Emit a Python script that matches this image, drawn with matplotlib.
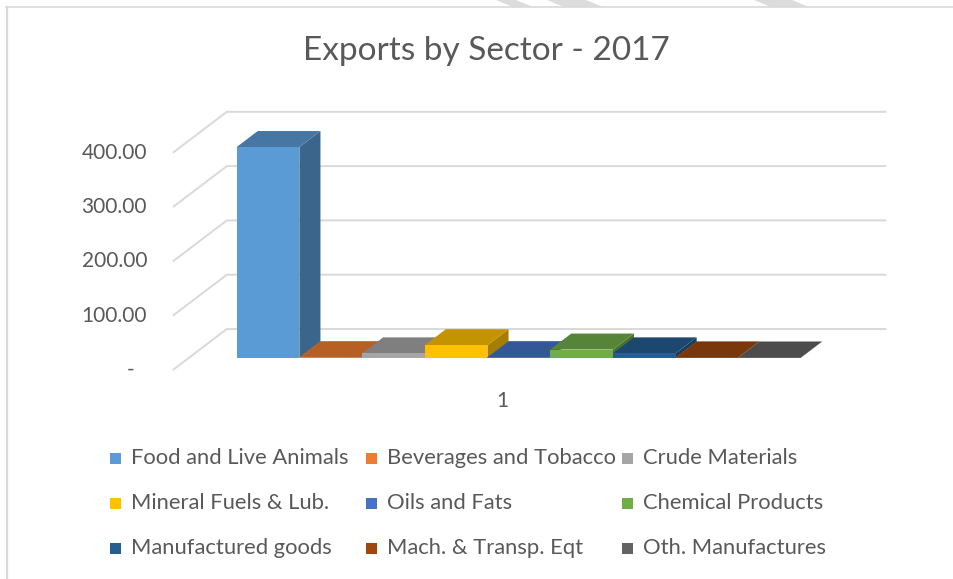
import matplotlib.pyplot as plt
from matplotlib.patches import Polygon, Rectangle
from matplotlib.lines import Line2D
import numpy as np

plt.rcParams['font.family'] = ['Lato', 'DejaVu Sans']

# export values per sector, 2017
sectors = ["Food and Live Animals", "Beverages and Tobacco", "Crude Materials",
           "Mineral Fuels & Lub.", "Oils and Fats", "Chemical Products",
           "Manufactured goods", "Mach. & Transp. Eqt", "Oth. Manufactures"]
values = [388, 1, 8, 23, 1, 15, 8, 0.6, 0.4]
colors = ["#5B9BD5", "#ED7D31", "#A5A5A5", "#FFC000", "#4472C4",
          "#70AD47", "#255E91", "#9E480E", "#636363"]
yticks = [0, 100, 200, 300, 400]
category = "1"

W, H = 954, 579
TXT = "#595959"
GRID = "#D9D9D9"

# oblique projection: depth d in [0, 1] shifts points right and up
DX, DY = 0.861, 75.5
XL, XR = -0.76, 9.76          # floor extent in bar-width units
D0, D1 = 0.30, 0.69           # front and back depth of the columns


def proj(x, v, d):
    return x + d * DX, v + d * DY


def shade(c, f):
    r, g, b = [int(c[i:i + 2], 16) for i in (1, 3, 5)]
    return (r * f / 255, g * f / 255, b * f / 255)


fig = plt.figure(figsize=(W / 100, H / 100), dpi=100)
ax = fig.add_axes([0, 0, 1, 1])
ax.set_axis_off()
ax.set_xlim(-220.5 / 62.7, (W - 220.5) / 62.7)
ax.set_ylim((370 - H) / 0.543, 370 / 0.543)

# gridlines: side wall diagonal + back wall
for t in yticks:
    pts = [proj(XL, t, 0), proj(XL, t, 1), proj(XR, t, 1)]
    xs, ys = zip(*pts)
    ax.plot(xs, ys, color=GRID, lw=1.4, solid_capstyle="butt", zorder=1)
    lx, ly = proj(XL, t, 0)
    if t == 0:
        ax.text(lx - 0.61, ly, "-", ha="right", va="center",
                fontsize=15, color=TXT)
    else:
        ax.text(lx - 0.41, ly, f"{t:.2f}", ha="right", va="center",
                fontsize=15, color=TXT)

# columns, drawn left to right so each front face covers the previous side
for i, (v, c) in enumerate(zip(values, colors)):
    side = [proj(i + 1, 0, D0), proj(i + 1, v, D0),
            proj(i + 1, v, D1), proj(i + 1, 0, D1)]
    top = [proj(i, v, D0), proj(i + 1, v, D0),
           proj(i + 1, v, D1), proj(i, v, D1)]
    ax.add_patch(Polygon(side, closed=True, fc=shade(c, 0.65), ec="none",
                         zorder=2 + i))
    ax.add_patch(Polygon(top, closed=True, fc=shade(c, 0.77), ec="none",
                         zorder=2 + i))
    fx, fy = proj(i, 0, D0)
    ax.bar(fx, v, width=1, bottom=fy, align="edge", color=c,
           edgecolor="none", zorder=2 + i + 0.5)

cx, cy = proj((XL + XR) / 2, 0, 0)
ax.text(cx, cy - 57, category, ha="center", va="center", fontsize=15, color=TXT)

fig.text(486.5 / W, 1 - 51 / H, "Exports by Sector - 2017", ha="center",
         va="center", fontsize=24, color=TXT)

# legend, three equal columns
for k, (name, c) in enumerate(zip(sectors, colors)):
    row, col = divmod(k, 3)
    x0 = 110 + 256 * col
    y0 = 458 + 45 * row
    fig.add_artist(Rectangle((x0 / W, 1 - (y0 + 5.5) / H), 11 / W, 11 / H,
                             transform=fig.transFigure, fc=c, ec="none"))
    fig.text((x0 + 21) / W, 1 - y0 / H, name, ha="left", va="center",
             fontsize=15.8, color=TXT)

# chart frame (left and top edges)
fig.add_artist(Line2D([7 / W, 7 / W], [0, 1 - 7 / H], color=GRID, lw=1.6,
                      transform=fig.transFigure))
fig.add_artist(Line2D([6 / W, 1], [1 - 7 / H, 1 - 7 / H], color=GRID, lw=1.2,
                      transform=fig.transFigure))

# faint diagonal stripes along the top edge
for a, b in [(496, 516), (547, 586), (754, 792)]:
    poly = [(a / W, 1), (b / W, 1), ((b + 17) / W, 1 - 7 / H), ((a + 17) / W, 1 - 7 / H)]
    fig.add_artist(Polygon(poly, closed=True, transform=fig.transFigure,
                           fc="#DCDCDC", ec="none"))

fig.savefig("out.png", dpi=100, facecolor="white")
